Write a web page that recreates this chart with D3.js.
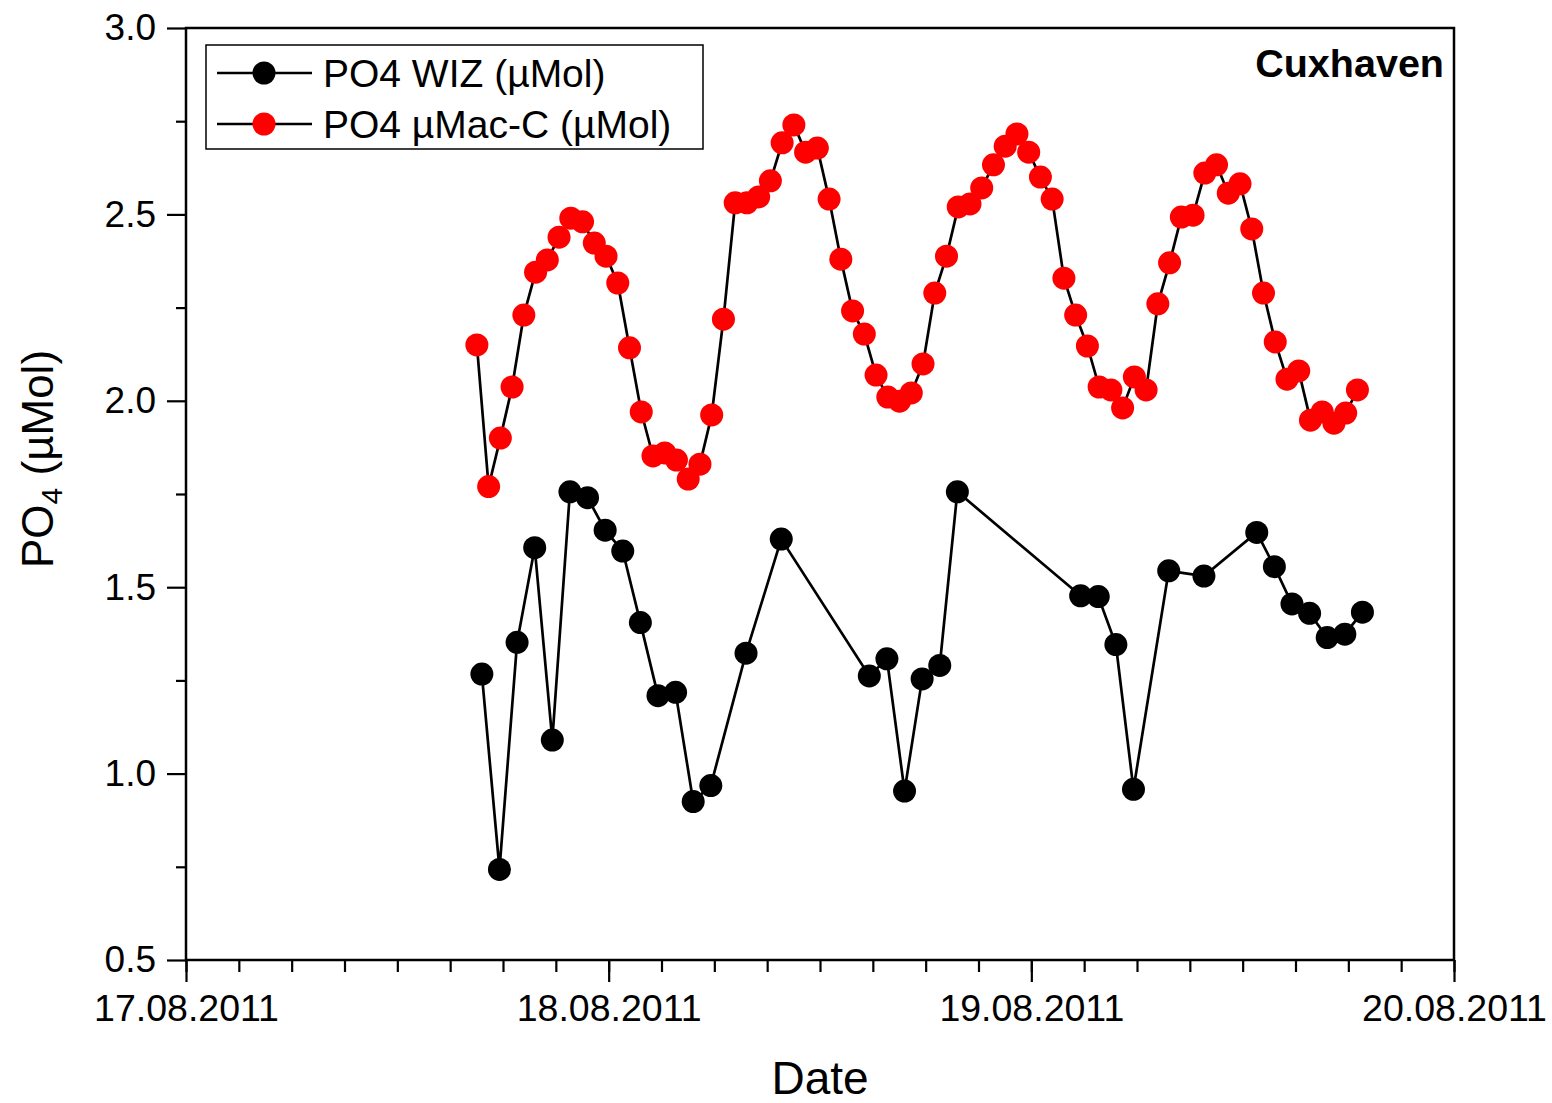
<!DOCTYPE html>
<html>
<head>
<meta charset="utf-8">
<script src="https://cdn.jsdelivr.net/npm/d3@7"></script>
<style>
	body { margin: 0; background: #fff; }
	svg text { font-family: "Liberation Sans", Arial, sans-serif; fill: #000; }
</style>
</head>
<body>
<div id="chart"></div>
<script>
// PO4 at Cuxhaven, WIZ lab samples vs. µMac-C analyser

// lab samples (irregular times)
var wizTimes = [
	'17.08.2011 16:48', '17.08.2011 17:48', '17.08.2011 18:48', '17.08.2011 19:48',
	'17.08.2011 20:48', '17.08.2011 21:48', '17.08.2011 22:48', '17.08.2011 23:48',
	'18.08.2011 00:48', '18.08.2011 01:48', '18.08.2011 02:48', '18.08.2011 03:48',
	'18.08.2011 04:48', '18.08.2011 05:48', '18.08.2011 07:48', '18.08.2011 09:48',
	'18.08.2011 14:48', '18.08.2011 15:48', '18.08.2011 16:48', '18.08.2011 17:48',
	'18.08.2011 18:48', '18.08.2011 19:48', '19.08.2011 02:48', '19.08.2011 03:48',
	'19.08.2011 04:48', '19.08.2011 05:48', '19.08.2011 07:48', '19.08.2011 09:48',
	'19.08.2011 12:48', '19.08.2011 13:48', '19.08.2011 14:48', '19.08.2011 15:48',
	'19.08.2011 16:48', '19.08.2011 17:48', '19.08.2011 18:48'
];
var wizValues = [
	1.267, 0.743, 1.352, 1.606, 1.090, 1.756, 1.740, 1.653,
	1.597, 1.405, 1.209, 1.218, 0.925, 0.968, 1.323, 1.629,
	1.262, 1.308, 0.953, 1.254, 1.290, 1.756, 1.477, 1.475,
	1.346, 0.958, 1.544, 1.530, 1.647, 1.555, 1.455, 1.430,
	1.365, 1.374, 1.433
];

// analyser: one reading every 40 minutes
var macStart = '17.08.2011 16:31';
var macStepMinutes = 40;
var macValues = [
	2.150, 1.770, 1.900, 2.037, 2.230, 2.345, 2.378, 2.439, 2.490, 2.480,
	2.423, 2.388, 2.316, 2.142, 1.970, 1.852, 1.860, 1.841, 1.790, 1.830,
	1.962, 2.219, 2.531, 2.531, 2.547, 2.590, 2.692, 2.740, 2.667, 2.678,
	2.541, 2.380, 2.241, 2.179, 2.069, 2.010, 1.999, 2.021, 2.099, 2.289,
	2.388, 2.520, 2.528, 2.571, 2.633, 2.683, 2.716, 2.667, 2.600, 2.541,
	2.329, 2.230, 2.147, 2.037, 2.029, 1.981, 2.064, 2.029, 2.260, 2.370,
	2.493, 2.498, 2.611, 2.633, 2.557, 2.582, 2.461, 2.289, 2.158, 2.058,
	2.080, 1.948, 1.970, 1.940, 1.967, 2.029
];

var xDomain = ['17.08.2011 00:00', '20.08.2011 00:00'];
var xTickLabels = ['17.08.2011', '18.08.2011', '19.08.2011', '20.08.2011'];
var yTicks = [0.5, 1.0, 1.5, 2.0, 2.5, 3.0];
var legendLabels = ['PO4 WIZ (µMol)', 'PO4 µMac-C (µMol)'];
var seriesColors = ['#000000', '#ff0000'];

var W = 1552, H = 1103;
var margin = {left: 186, right: 98, top: 28, bottom: 143};
var pw = W - margin.left - margin.right,
	ph = H - margin.top - margin.bottom;

var parse = d3.timeParse('%d.%m.%Y %H:%M');

var wiz = wizTimes.map(function(t, i){ return {t: parse(t), v: wizValues[i]}; });
var t0 = parse(macStart);
var mac = macValues.map(function(v, i){
	return {t: d3.timeMinute.offset(t0, i * macStepMinutes), v: v};
});

var x = d3.scaleTime()
	.domain(xDomain.map(parse))
	.range([0, pw]);
var y = d3.scaleLinear()
	.domain([0.5, 3.0])
	.range([ph, 0]);

var svg = d3.select('#chart').append('svg')
	.attr('width', W)
	.attr('height', H);

var g = svg.append('g')
	.attr('transform', 'translate(' + margin.left + ',' + margin.top + ')');

// frame
g.append('rect')
	.attr('width', pw)
	.attr('height', ph)
	.attr('fill', 'none')
	.attr('stroke', '#000')
	.attr('stroke-width', 2.5);

// x axis: major ticks per day, minor every 3 hours
var xMinor = d3.axisBottom(x)
	.ticks(d3.timeHour.every(3))
	.tickSize(12)
	.tickFormat('');
g.append('g')
	.attr('class', 'x minor')
	.attr('transform', 'translate(0,' + ph + ')')
	.call(xMinor);

var xMajor = d3.axisBottom(x)
	.ticks(d3.timeDay.every(1))
	.tickSize(22)
	.tickPadding(10)
	.tickFormat(function(d, i){ return xTickLabels[i]; });
g.append('g')
	.attr('class', 'x major')
	.attr('transform', 'translate(0,' + ph + ')')
	.call(xMajor);

// y axis
var yMinor = d3.axisLeft(y)
	.tickValues(d3.range(0.75, 3.0, 0.5))
	.tickSize(10)
	.tickFormat('');
g.append('g').attr('class', 'y minor').call(yMinor);

var yMajor = d3.axisLeft(y)
	.tickValues(yTicks)
	.tickSize(19)
	.tickPadding(11)
	.tickFormat(d3.format('.1f'));
g.append('g').attr('class', 'y major').call(yMajor);

g.selectAll('.domain').remove();
g.selectAll('.tick line')
	.attr('stroke', '#000')
	.attr('stroke-width', 2.2);
g.selectAll('.x.major .tick text')
	.style('font-size', '37.5px')
	.attr('y', 34);
g.selectAll('.y.major .tick text')
	.style('font-size', '37px');

// series
var line = d3.line()
	.x(function(d){ return x(d.t); })
	.y(function(d){ return y(d.v); });

[wiz, mac].forEach(function(data, k){
	g.append('path')
		.datum(data)
		.attr('fill', 'none')
		.attr('stroke', '#000')
		.attr('stroke-width', 2.7)
		.attr('d', line);
});
[wiz, mac].forEach(function(data, k){
	g.append('g').selectAll('circle')
		.data(data).enter()
		.append('circle')
		.attr('cx', function(d){ return x(d.t); })
		.attr('cy', function(d){ return y(d.v); })
		.attr('r', 11.5)
		.attr('fill', seriesColors[k]);
});

// legend
var legend = svg.append('g')
	.attr('transform', 'translate(206,45)');
legend.append('rect')
	.attr('width', 497)
	.attr('height', 104)
	.attr('fill', '#fff')
	.attr('stroke', '#000')
	.attr('stroke-width', 1.5);
var rows = legend.selectAll('g.row')
	.data(legendLabels).enter()
	.append('g')
	.attr('class', 'row')
	.attr('transform', function(d, i){ return 'translate(0,' + (28 + i * 51) + ')'; });
rows.append('line')
	.attr('x1', 11).attr('x2', 106)
	.attr('stroke', '#000')
	.attr('stroke-width', 2.5);
rows.append('circle')
	.attr('cx', 58)
	.attr('r', 11.5)
	.attr('fill', function(d, i){ return seriesColors[i]; });
rows.append('text')
	.attr('x', 117)
	.attr('dy', '0.36em')
	.style('font-size', '39px')
	.text(function(d){ return d; });

// station name
svg.append('text')
	.attr('x', margin.left + pw - 10)
	.attr('y', 77)
	.attr('text-anchor', 'end')
	.style('font-size', '39.5px')
	.style('font-weight', 'bold')
	.text('Cuxhaven');

// axis titles
svg.append('text')
	.attr('x', margin.left + pw / 2)
	.attr('y', 1094)
	.attr('text-anchor', 'middle')
	.style('font-size', '46px')
	.text('Date');

var yTitle = svg.append('text')
	.attr('transform', 'translate(53,459) rotate(-90)')
	.attr('text-anchor', 'middle')
	.style('font-size', '44px');
yTitle.append('tspan').text('PO');
yTitle.append('tspan')
	.attr('dy', 9)
	.style('font-size', '30px')
	.text('4');
yTitle.append('tspan')
	.attr('dy', -9)
	.text(' (µMol)');
</script>
</body>
</html>
